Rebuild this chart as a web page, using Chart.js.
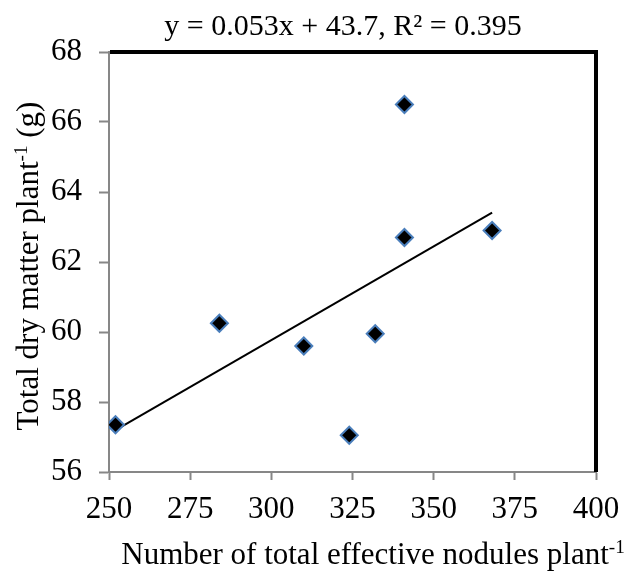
<!DOCTYPE html>
<html>
<head>
<meta charset="utf-8">
<script src="https://cdn.jsdelivr.net/npm/chart.js@4.4.1/dist/chart.umd.min.js"></script>
<style>
  html, body { margin: 0; padding: 0; background: #fff; }
  .chart-box { width: 638px; height: 573px; position: relative; }
</style>
</head>
<body>
<div class="chart-box"><canvas id="chart"></canvas></div>
<script>
// data
const nodules = [252, 284, 310, 324, 332, 341, 341, 368];
const dryMatter = [57.35, 60.25, 59.6, 57.05, 59.95, 66.5, 62.7, 62.9];
const xTicks = [250, 275, 300, 325, 350, 375, 400];
const yTicks = [56, 58, 60, 62, 64, 66, 68];

const titleText = 'y = 0.053x + 43.7, R² = 0.395';
const xTitle = ['Number of total effective nodules plant', '-1'];
const yTitle = ['Total dry matter plant', '-1', ' (g)'];

// least squares line through the points
const n = nodules.length;
const mx = nodules.reduce((a, b) => a + b, 0) / n;
const my = dryMatter.reduce((a, b) => a + b, 0) / n;
let sxy = 0, sxx = 0;
nodules.forEach((x, i) => {
  sxy += (x - mx) * (dryMatter[i] - my);
  sxx += (x - mx) * (x - mx);
});
const slope = sxy / sxx;
const icpt = my - slope * mx;
const xMin = Math.min(...nodules);
const xMax = Math.max(...nodules);
const trend = [
  { x: xMin, y: icpt + slope * xMin },
  { x: xMax, y: icpt + slope * xMax },
];

const serif = '"Liberation Serif", "Times New Roman", serif';
const fs = 31;

// draws text with a raised small part (plant-1)
function drawParts(ctx, parts, x, y, size) {
  const sup = size * 0.62;
  let w = 0;
  parts.forEach((p, i) => {
    ctx.font = (i === 1 ? sup : size) + 'px ' + serif;
    w += ctx.measureText(p).width;
  });
  let cx = x - w / 2;
  parts.forEach((p, i) => {
    ctx.font = (i === 1 ? sup : size) + 'px ' + serif;
    ctx.fillText(p, cx, i === 1 ? y - size * 0.36 : y);
    cx += ctx.measureText(p).width;
  });
}

// black frame on top and right side + the texts around the plot
const frame = {
  id: 'frame',
  beforeDatasetsDraw(chart) {
    const { ctx, chartArea: a } = chart;
    ctx.save();
    ctx.strokeStyle = '#000';
    ctx.lineWidth = 4;
    ctx.beginPath();
    ctx.moveTo(a.left + 1, a.top);
    ctx.lineTo(a.right, a.top);
    ctx.lineTo(a.right, a.bottom);
    ctx.stroke();
    ctx.restore();
  },
  afterDraw(chart) {
    const { ctx } = chart;
    ctx.save();
    ctx.fillStyle = '#000';
    ctx.textBaseline = 'alphabetic';
    ctx.textAlign = 'left';
    ctx.font = '30px ' + serif;
    const tw = ctx.measureText(titleText).width;
    ctx.fillText(titleText, 343 - tw / 2, 35);

    drawParts(ctx, xTitle, 373, 564, fs);

    ctx.translate(38, 266);
    ctx.rotate(-Math.PI / 2);
    drawParts(ctx, yTitle, 0, 0, fs);
    ctx.restore();
  },
};

new Chart(document.getElementById('chart'), {
  type: 'scatter',
  data: {
    datasets: [
      {
        label: 'trend',
        type: 'line',
        data: trend,
        borderColor: '#000',
        borderWidth: 2,
        pointRadius: 0,
        fill: false,
        order: 2,
      },
      {
        label: 'points',
        data: nodules.map((x, i) => ({ x: x, y: dryMatter[i] })),
        pointStyle: 'rectRot',
        pointRadius: 8.5,
        backgroundColor: '#000',
        borderColor: '#4a7ebb',
        borderWidth: 2,
        order: 1,
      },
    ],
  },
  options: {
    responsive: true,
    maintainAspectRatio: false,
    animation: false,
    layout: { padding: { top: 52, right: 42, left: 0 } },
    plugins: {
      legend: { display: false },
      tooltip: { enabled: false },
    },
    scales: {
      x: {
        type: 'linear',
        min: 250,
        max: 400,
        afterBuildTicks: s => { s.ticks = xTicks.map(v => ({ value: v })); },
        afterFit: s => { s.height = 101; },
        grid: { display: true, drawOnChartArea: false, tickLength: 8, tickWidth: 2, tickColor: '#878787' },
        border: { color: '#878787', width: 2 },
        ticks: { color: '#000', padding: 11, font: { family: serif, size: fs } },
      },
      y: {
        type: 'linear',
        min: 56,
        max: 68,
        afterBuildTicks: s => { s.ticks = yTicks.map(v => ({ value: v })); },
        afterFit: s => { s.width = 109; },
        grid: { display: true, drawOnChartArea: false, tickLength: 10, tickWidth: 2, tickColor: '#878787' },
        border: { color: '#878787', width: 2 },
        ticks: { color: '#000', padding: 17, font: { family: serif, size: fs } },
      },
    },
  },
  plugins: [frame],
});
</script>
</body>
</html>
